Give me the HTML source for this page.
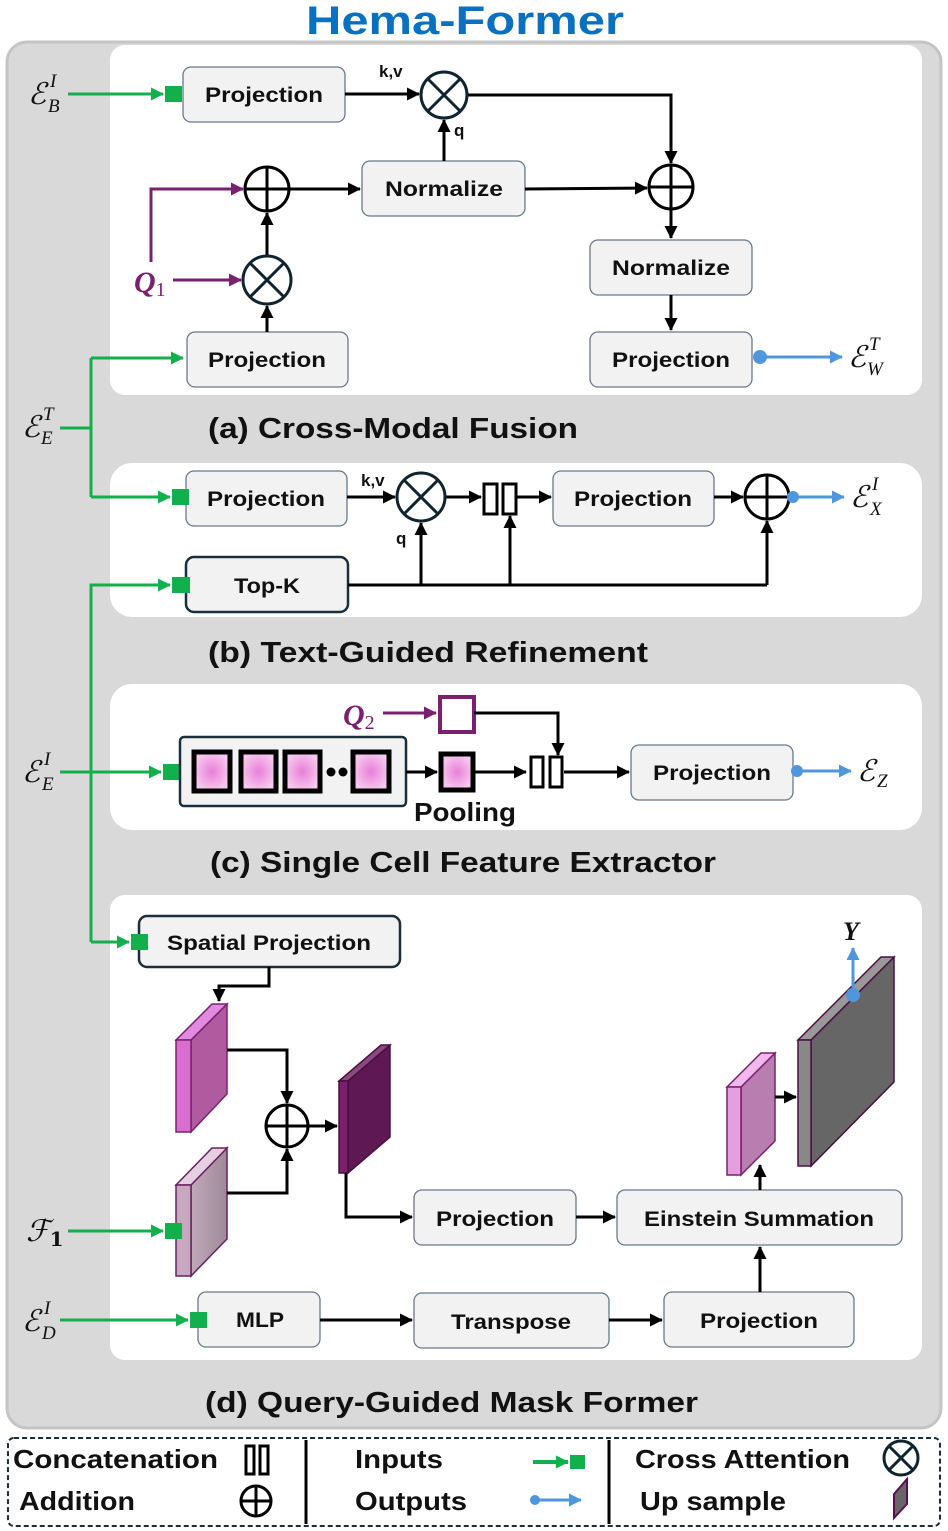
<!DOCTYPE html>
<html><head><meta charset="utf-8"><style>
html,body{margin:0;padding:0;background:#fff;}
svg{display:block;}
.b{fill:#f2f2f2;stroke:#6a7888;stroke-width:1.3;}
.bd{fill:#f2f2f2;stroke:#1c2e3c;stroke-width:2.5;}
.t{font-family:"Liberation Sans",sans-serif;font-weight:bold;font-size:21px;fill:#111;}
.L{font-family:"Liberation Sans",sans-serif;font-weight:bold;font-size:29px;fill:#111;}
.s{font-family:"Liberation Sans",sans-serif;font-weight:bold;font-size:17px;fill:#111;}
.m{font-family:"DejaVu Serif","Liberation Serif",serif;font-style:italic;font-size:30px;fill:#111;}
.mi{font-family:"Liberation Serif",serif;font-style:italic;font-size:19px;fill:#111;}
.ln{fill:none;stroke:#000;stroke-width:3;}
.g{fill:none;stroke:#12b04c;stroke-width:3;}
.bl{fill:none;stroke:#4f96dc;stroke-width:3;}
.p{fill:none;stroke:#7a2070;stroke-width:3;}
.c{fill:#fff;stroke:#000;stroke-width:3;}
.cx{fill:#fff;stroke:#10232f;stroke-width:3;}
</style></head><body>
<svg width="948" height="1531" viewBox="0 0 948 1531" xmlns="http://www.w3.org/2000/svg">
<defs>
<marker id="ak" markerWidth="13" markerHeight="13" refX="12" refY="6.5" orient="auto" markerUnits="userSpaceOnUse"><path d="M0,0 L13,6.5 L0,13 z" fill="#000"/></marker>
<marker id="ag" markerWidth="13" markerHeight="13" refX="12" refY="6.5" orient="auto" markerUnits="userSpaceOnUse"><path d="M0,0 L13,6.5 L0,13 z" fill="#12b04c"/></marker>
<marker id="ab" markerWidth="13" markerHeight="13" refX="12" refY="6.5" orient="auto" markerUnits="userSpaceOnUse"><path d="M0,0 L13,6.5 L0,13 z" fill="#4f96dc"/></marker>
<marker id="ap" markerWidth="13" markerHeight="13" refX="12" refY="6.5" orient="auto" markerUnits="userSpaceOnUse"><path d="M0,0 L13,6.5 L0,13 z" fill="#7a2070"/></marker>
<radialGradient id="pk"><stop offset="0" stop-color="#e97fd8"/><stop offset="1" stop-color="#f6c8ee"/></radialGradient>
<linearGradient id="gr" x1="0" x2="1"><stop offset="0" stop-color="#c0a8bc"/><stop offset="1" stop-color="#9d8a98"/></linearGradient>
</defs>

<text x="465" y="34" text-anchor="middle" font-family="Liberation Sans,sans-serif" font-weight="bold" font-size="40" fill="#0a70c0" textLength="318" lengthAdjust="spacingAndGlyphs">Hema-Former</text>

<rect x="7" y="42" width="934" height="1386" rx="20" fill="#d9d9d9" stroke="#c4c4c4" stroke-width="3"/>
<rect x="110" y="45" width="812" height="350" rx="15" fill="#fff"/>
<rect x="110" y="463" width="812" height="154" rx="22" fill="#fff"/>
<rect x="110" y="684" width="812" height="146" rx="22" fill="#fff"/>
<rect x="110" y="895" width="812" height="465" rx="15" fill="#fff"/>

<text class="L" x="208" y="438" textLength="370" lengthAdjust="spacingAndGlyphs">(a) Cross-Modal Fusion</text>
<text class="L" x="208" y="662" textLength="440" lengthAdjust="spacingAndGlyphs">(b) Text-Guided Refinement</text>
<text class="L" x="210" y="872" textLength="506" lengthAdjust="spacingAndGlyphs">(c) Single Cell Feature Extractor</text>
<text class="L" x="205" y="1412" textLength="493" lengthAdjust="spacingAndGlyphs">(d) Query-Guided Mask Former</text>

<!-- (a) -->
<rect class="b" x="183" y="67" width="162" height="55" rx="8"/><text class="t" x="264" y="102" text-anchor="middle" textLength="118" lengthAdjust="spacingAndGlyphs">Projection</text>
<rect class="b" x="362" y="161" width="163" height="55" rx="8"/><text class="t" x="444" y="196" text-anchor="middle" textLength="118" lengthAdjust="spacingAndGlyphs">Normalize</text>
<rect class="b" x="590" y="240" width="162" height="55" rx="8"/><text class="t" x="671" y="275" text-anchor="middle" textLength="118" lengthAdjust="spacingAndGlyphs">Normalize</text>
<rect class="b" x="590" y="332" width="162" height="55" rx="8"/><text class="t" x="671" y="367" text-anchor="middle" textLength="118" lengthAdjust="spacingAndGlyphs">Projection</text>
<rect class="b" x="187" y="332" width="161" height="55" rx="8"/><text class="t" x="267" y="367" text-anchor="middle" textLength="118" lengthAdjust="spacingAndGlyphs">Projection</text>

<path class="ln" d="M345,94 L419,94" marker-end="url(#ak)"/>
<text class="s" x="379" y="77">k,v</text>
<path class="ln" d="M467,95 L671,95 L671,163" marker-end="url(#ak)"/>
<path class="ln" d="M444,161 L444,120" marker-end="url(#ak)"/>
<text class="s" x="454" y="136">q</text>
<path class="ln" d="M289,189 L360,189" marker-end="url(#ak)"/>
<path class="ln" d="M525,189 L647,188" marker-end="url(#ak)"/>
<path class="ln" d="M671,209 L671,238" marker-end="url(#ak)"/>
<path class="ln" d="M671,295 L671,330" marker-end="url(#ak)"/>
<path class="ln" d="M267,332 L267,306" marker-end="url(#ak)"/>
<path class="ln" d="M267,256 L267,213" marker-end="url(#ak)"/>
<circle class="cx" cx="444" cy="95" r="23"/><path d="M428,79 L460,111 M460,79 L428,111" stroke="#10232f" stroke-width="3"/>
<circle class="c" cx="267" cy="189" r="22"/><path d="M245,189 H289 M267,167 V211" stroke="#000" stroke-width="3"/>
<circle class="cx" cx="267" cy="280" r="24"/><path d="M250,263 L284,297 M284,263 L250,297" stroke="#10232f" stroke-width="3"/>
<circle class="c" cx="671" cy="187" r="22"/><path d="M649,187 H693 M671,165 V209" stroke="#000" stroke-width="3"/>

<path class="p" d="M151,262 L151,189 L243,189" marker-end="url(#ap)"/>
<path class="p" d="M173,280 L241,280" marker-end="url(#ap)"/>
<text x="134" y="292" font-family="Liberation Serif,serif" font-style="italic" font-weight="bold" font-size="30" fill="#7a2070">Q<tspan font-size="20" dy="4" font-style="normal" font-weight="normal">1</tspan></text>

<path class="g" d="M68,94 L163,94" marker-end="url(#ag)"/><rect x="165" y="86" width="17" height="16" fill="#12b04c"/>
<text class="m" x="28" y="104">ℰ</text><text class="mi" x="50" y="87">I</text><text class="mi" x="48" y="112">B</text>
<path class="g" d="M60,428 L91,428 M91,358 L91,497"/>
<path class="g" d="M91,358 L183,358" marker-end="url(#ag)"/>
<path class="g" d="M91,497 L170,497" marker-end="url(#ag)"/><rect x="172" y="489" width="17" height="16" fill="#12b04c"/>
<text class="m" x="22" y="437">ℰ</text><text class="mi" x="43" y="420">T</text><text class="mi" x="41" y="444">E</text>
<circle cx="760" cy="357" r="7" fill="#4f96dc"/><path class="bl" d="M760,357 L842,357" marker-end="url(#ab)"/>
<text class="m" x="848" y="367">ℰ</text><text class="mi" x="869" y="350">T</text><text class="mi" x="867" y="375">W</text>

<!-- (b) -->
<rect class="b" x="186" y="471" width="161" height="55" rx="8"/><text class="t" x="266" y="506" text-anchor="middle" textLength="118" lengthAdjust="spacingAndGlyphs">Projection</text>
<rect class="b" x="553" y="471" width="161" height="55" rx="8"/><text class="t" x="633" y="506" text-anchor="middle" textLength="118" lengthAdjust="spacingAndGlyphs">Projection</text>
<rect class="bd" x="186" y="557" width="162" height="55" rx="8"/><text class="t" x="267" y="593" text-anchor="middle" textLength="66" lengthAdjust="spacingAndGlyphs">Top-K</text>
<rect x="172" y="489" width="17" height="16" fill="#12b04c"/>
<path class="ln" d="M347,497 L395,497" marker-end="url(#ak)"/>
<text class="s" x="361" y="486">k,v</text>
<text class="s" x="396" y="544">q</text>
<path class="ln" d="M445,497 L481,497" marker-end="url(#ak)"/>
<path class="ln" d="M517,497 L551,497" marker-end="url(#ak)"/>
<path class="ln" d="M714,497 L743,497" marker-end="url(#ak)"/>
<path class="ln" d="M348,585 L767,585 M421,585 L421,523 M510,585 L510,516 M767,585 L767,521"/>
<path class="ln" d="M421,540 L421,523" marker-end="url(#ak)"/>
<path class="ln" d="M510,540 L510,516" marker-end="url(#ak)"/>
<path class="ln" d="M767,540 L767,521" marker-end="url(#ak)"/>
<circle class="cx" cx="421" cy="497" r="24"/><path d="M404,480 L438,514 M438,480 L404,514" stroke="#10232f" stroke-width="3"/>
<rect x="484" y="484" width="13" height="30" fill="#fff" stroke="#000" stroke-width="3"/><rect x="503" y="484" width="13" height="30" fill="#fff" stroke="#000" stroke-width="3"/>
<circle class="c" cx="767" cy="497" r="22"/><path d="M745,497 H789 M767,475 V519" stroke="#000" stroke-width="3"/>
<circle cx="793" cy="497" r="6" fill="#4f96dc"/><path class="bl" d="M793,497 L844,497" marker-end="url(#ab)"/>
<text class="m" x="850" y="507">ℰ</text><text class="mi" x="872" y="490">I</text><text class="mi" x="870" y="515">X</text>

<path class="g" d="M91,942 L91,585 L170,585" marker-end="url(#ag)"/><rect x="172" y="577" width="18" height="16" fill="#12b04c"/>
<path class="g" d="M60,772 L161,772" marker-end="url(#ag)"/><rect x="163" y="764" width="17" height="16" fill="#12b04c"/>
<path class="g" d="M91,942 L129,942" marker-end="url(#ag)"/>
<text class="m" x="22" y="782">ℰ</text><text class="mi" x="44" y="765">I</text><text class="mi" x="42" y="790">E</text>

<!-- (c) -->
<rect class="bd" x="180" y="737" width="226" height="69" rx="4" stroke-width="3"/>
<rect x="194" y="752" width="36" height="39" fill="url(#pk)" stroke="#000" stroke-width="5"/>
<rect x="241" y="752" width="35" height="39" fill="url(#pk)" stroke="#000" stroke-width="5"/>
<rect x="285" y="752" width="35" height="39" fill="url(#pk)" stroke="#000" stroke-width="5"/>
<rect x="353" y="752" width="36" height="39" fill="url(#pk)" stroke="#000" stroke-width="5"/>
<circle cx="331" cy="772" r="4.5" fill="#000"/><circle cx="343" cy="772" r="4.5" fill="#000"/>
<path class="ln" d="M406,772 L437,772" marker-end="url(#ak)"/>
<rect x="441" y="754" width="32" height="36" fill="url(#pk)" stroke="#000" stroke-width="5"/>
<path class="ln" d="M474,772 L526,772" marker-end="url(#ak)"/>
<rect x="531" y="757" width="12" height="30" fill="#fff" stroke="#000" stroke-width="3"/><rect x="550" y="757" width="12" height="30" fill="#fff" stroke="#000" stroke-width="3"/>
<path class="ln" d="M564,772 L629,772" marker-end="url(#ak)"/>
<rect x="440" y="697" width="34" height="35" fill="#fff" stroke="#7a2070" stroke-width="4"/>
<path class="p" d="M383,713 L436,713" marker-end="url(#ap)"/>
<text x="343" y="725" font-family="Liberation Serif,serif" font-style="italic" font-weight="bold" font-size="30" fill="#7a2070">Q<tspan font-size="20" dy="4" font-style="normal" font-weight="normal">2</tspan></text>
<path class="ln" d="M474,713 L558,713 L558,755" marker-end="url(#ak)"/>
<text x="465" y="821" text-anchor="middle" font-family="Liberation Sans,sans-serif" font-weight="bold" font-size="26" fill="#111" textLength="102" lengthAdjust="spacingAndGlyphs">Pooling</text>
<rect class="b" x="631" y="745" width="162" height="55" rx="8"/><text class="t" x="712" y="780" text-anchor="middle" textLength="118" lengthAdjust="spacingAndGlyphs">Projection</text>
<circle cx="797" cy="771" r="6" fill="#4f96dc"/><path class="bl" d="M797,771 L851,771" marker-end="url(#ab)"/>
<text class="m" x="857" y="781">ℰ</text><text class="mi" x="877" y="787">Z</text>

<!-- (d) -->
<rect class="bd" x="139" y="916" width="261" height="51" rx="8"/><text class="t" x="269" y="950" text-anchor="middle" textLength="204" lengthAdjust="spacingAndGlyphs">Spatial Projection</text>
<rect x="131" y="934" width="17" height="16" fill="#12b04c"/>
<path class="ln" d="M269,967 L269,986 L219,986 L219,1001" marker-end="url(#ak)"/>
<polygon points="191,1040 227,1004 227,1094 191,1132" fill="#b05aa0" stroke="#7a2070" stroke-width="1.5"/>
<polygon points="176,1040 191,1040 227,1004 212,1004" fill="#e08ae0" stroke="#7a2070" stroke-width="1.5"/>
<rect x="176" y="1040" width="15" height="92" fill="#d86fcf" stroke="#7a2070" stroke-width="1.5"/>
<polygon points="191,1185 227,1148 227,1239 191,1276" fill="url(#gr)" stroke="#6a2060" stroke-width="1.5"/>
<polygon points="176,1185 191,1185 227,1148 212,1148" fill="#e4d0e0" stroke="#6a2060" stroke-width="1.5"/>
<rect x="176" y="1185" width="15" height="91" fill="#c8a8c0" stroke="#6a2060" stroke-width="1.5"/>
<path class="ln" d="M227,1050 L287,1050 L287,1103" marker-end="url(#ak)"/>
<path class="ln" d="M227,1193 L287,1193 L287,1149" marker-end="url(#ak)"/>
<circle class="c" cx="287" cy="1126" r="21"/><path d="M266,1126 H308 M287,1105 V1147" stroke="#000" stroke-width="3"/>
<path class="ln" d="M308,1126 L337,1126" marker-end="url(#ak)"/>
<polygon points="348,1081 390,1045 390,1137 348,1173" fill="#5e1853" stroke="#4a1040" stroke-width="1.5"/>
<polygon points="339,1081 348,1081 390,1045 381,1045" fill="#8a4a80" stroke="#4a1040" stroke-width="1.5"/>
<rect x="339" y="1081" width="9" height="92" fill="#7a1f6a" stroke="#4a1040" stroke-width="1.5"/>
<path class="ln" d="M346,1173 L346,1217 L412,1217" marker-end="url(#ak)"/>
<rect class="b" x="414" y="1190" width="162" height="55" rx="8"/><text class="t" x="495" y="1226" text-anchor="middle" textLength="118" lengthAdjust="spacingAndGlyphs">Projection</text>
<path class="ln" d="M576,1217 L615,1217" marker-end="url(#ak)"/>
<rect class="b" x="617" y="1190" width="285" height="55" rx="8"/><text class="t" x="759" y="1226" text-anchor="middle" textLength="230" lengthAdjust="spacingAndGlyphs">Einstein Summation</text>
<path class="ln" d="M760,1190 L760,1165" marker-end="url(#ak)"/>
<polygon points="741,1087 775,1053 775,1141 741,1175" fill="#b87eb0" stroke="#7a2070" stroke-width="1.5"/>
<polygon points="727,1087 741,1087 775,1053 761,1053" fill="#f0b8ec" stroke="#7a2070" stroke-width="1.5"/>
<rect x="727" y="1087" width="14" height="88" fill="#e4a0dc" stroke="#7a2070" stroke-width="1.5"/>
<path class="ln" d="M775,1097 L796,1097" marker-end="url(#ak)"/>
<polygon points="811,1040 894,957 894,1082 811,1166" fill="#666" stroke="#4a1040" stroke-width="1.5"/>
<polygon points="798,1040 811,1040 894,957 881,957" fill="#999" stroke="#4a1040" stroke-width="1.5"/>
<rect x="798" y="1040" width="13" height="126" fill="#888" stroke="#4a1040" stroke-width="1.5"/>
<circle cx="853" cy="995" r="7" fill="#4f96dc"/><path class="bl" d="M853,995 L853,948" marker-end="url(#ab)"/>
<text x="843" y="940" font-family="Liberation Serif,serif" font-style="italic" font-weight="bold" font-size="26" fill="#111">Y</text>

<rect x="165" y="1223" width="17" height="16" fill="#12b04c"/>
<path class="g" d="M68,1231 L163,1231" marker-end="url(#ag)"/>
<text class="m" x="26" y="1241">ℱ<tspan font-size="20" dy="5" font-style="normal" font-weight="bold">1</tspan></text>
<path class="g" d="M60,1320 L188,1320" marker-end="url(#ag)"/>
<text class="m" x="22" y="1331">ℰ</text><text class="mi" x="44" y="1314">I</text><text class="mi" x="42" y="1339">D</text>
<rect class="b" x="198" y="1292" width="122" height="55" rx="8"/><text class="t" x="260" y="1327" text-anchor="middle" textLength="48" lengthAdjust="spacingAndGlyphs">MLP</text>
<rect x="190" y="1312" width="17" height="16" fill="#12b04c"/>
<path class="ln" d="M320,1320 L412,1320" marker-end="url(#ak)"/>
<rect class="b" x="414" y="1293" width="195" height="55" rx="8"/><text class="t" x="511" y="1329" text-anchor="middle" textLength="120" lengthAdjust="spacingAndGlyphs">Transpose</text>
<path class="ln" d="M609,1320 L662,1320" marker-end="url(#ak)"/>
<rect class="b" x="664" y="1292" width="190" height="55" rx="8"/><text class="t" x="759" y="1328" text-anchor="middle" textLength="118" lengthAdjust="spacingAndGlyphs">Projection</text>
<path class="ln" d="M760,1292 L760,1247" marker-end="url(#ak)"/>

<!-- legend -->
<rect x="8" y="1438" width="932" height="88" rx="6" fill="#fff" stroke="#1c2e3c" stroke-width="2" stroke-dasharray="5,3"/>
<path d="M306,1440 V1524 M609,1440 V1524" stroke="#000" stroke-width="3"/>
<g font-family="Liberation Sans,sans-serif" font-weight="bold" font-size="26" fill="#111">
<text x="13" y="1468" textLength="205" lengthAdjust="spacingAndGlyphs">Concatenation</text>
<text x="19" y="1510" textLength="116" lengthAdjust="spacingAndGlyphs">Addition</text>
<text x="355" y="1468" textLength="88" lengthAdjust="spacingAndGlyphs">Inputs</text>
<text x="355" y="1510" textLength="112" lengthAdjust="spacingAndGlyphs">Outputs</text>
<text x="635" y="1468" textLength="215" lengthAdjust="spacingAndGlyphs">Cross Attention</text>
<text x="640" y="1510" textLength="146" lengthAdjust="spacingAndGlyphs">Up sample</text>
</g>
<rect x="246" y="1446" width="8" height="28" fill="#fff" stroke="#000" stroke-width="3"/><rect x="260" y="1446" width="8" height="28" fill="#fff" stroke="#000" stroke-width="3"/>
<circle class="c" cx="256" cy="1501" r="15"/><path d="M241,1501 H271 M256,1486 V1516" stroke="#000" stroke-width="3"/>
<path d="M533,1462 L568,1462" stroke="#12b04c" stroke-width="4" marker-end="url(#ag)"/><rect x="570" y="1455" width="15" height="14" fill="#12b04c"/>
<circle cx="535" cy="1500" r="5" fill="#4f96dc"/><path class="bl" d="M535,1500 L581,1500" marker-end="url(#ab)"/>
<circle class="cx" cx="901" cy="1458" r="17"/><path d="M889,1446 L913,1470 M913,1446 L889,1470" stroke="#10232f" stroke-width="3"/>
<polygon points="894,1494 907,1479 907,1504 894,1518" fill="#666" stroke="#5a1050" stroke-width="2"/>
</svg>
</body></html>
